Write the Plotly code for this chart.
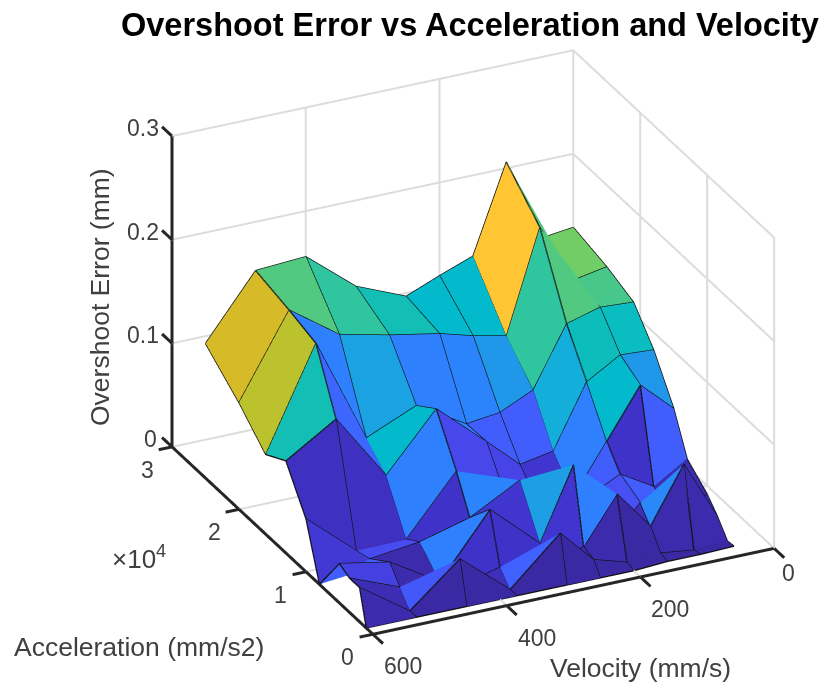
import plotly.graph_objects as go

velocity = [600, 525, 450, 375, 300, 250, 200, 150, 100, 50]
acceleration = [25000, 20000, 16000, 13000, 10000, 8000, 5000, 3500, 2000, 1000]
# rows follow acceleration, columns follow velocity
overshoot = [
    [.130, .190, .193, .154, .134, .147, .159, .243, .162, .166],
    [.103, .182, .148, .137, .128, .119, .112, .210, .152, .158],
    [.077, .174, .072, .093, .065, .069, .084, .141, .150, .148],
    [.089, .119, .054, .108, .066, .037, .043, .103, .122, .120],
    [.051, .010, .0105, .066, .028, .0115, .017, .064, .111, .0815],
    [.000, .014, .020, .033, .059, .010, .028, .044, .025, .045],
    [.038, .029, .000, .059, .016, .085, .003, .0345, .012, .029],
    [.033, .014, .000, .0125, .004, .015, .059, .021, .074, .017],
    [.033, .000, .040, .000, .044, .0115, .002, .004, .000, .002],
    [.000, .000, .000, .000, .000, .000, .000, .002, .002, .003],
]
face_level = [
    [.84, .60, .54, .48, .42, .42, .94, .60, .66],
    [.78, .24, .33, .24, .25, .30, .54, .60, .58],
    [.48, .19, .42, .24, .17, .17, .36, .46, .45],
    [.05, .05, .24, .12, .11, .07, .24, .42, .30],
    [.08, .13, .06, .25, .24, .20, .17, .06, .17],
    [.17, .02, .24, .07, .32, .20, .14, .17, .03],
    [.10, .02, .06, .06, .07, .24, .04, .26, .03],
    [.03, .16, .04, .18, .02, .02, .01, .02, .02],
    [.02, .01, .01, .01, .01, .01, .01, .01, .01],
]
colors = [
    [0.00, "#3a289f"], [0.06, "#3f32c8"], [0.12, "#4848ee"], [0.18, "#3f62ff"],
    [0.24, "#2f80ff"], [0.30, "#2098e8"], [0.36, "#14aedb"], [0.42, "#02bacb"],
    [0.48, "#12bfb5"], [0.54, "#30c59e"], [0.60, "#52c980"], [0.66, "#70cd66"],
    [0.78, "#bcc22e"], [0.84, "#d6ba28"], [0.94, "#ffc433"], [1.00, "#f9fb15"],
]
x_ticks = [0, 200, 400, 600]
y_ticks = [0, 10000, 20000, 30000]
y_labels = ["0", "1", "2", "3"]
z_ticks = [0, 0.1, 0.2, 0.3]
z_labels = ["0", "0.1", "0.2", "0.3"]

X0, X1 = min(x_ticks), max(x_ticks)
Y0, Y1 = min(y_ticks), max(y_ticks)
Z0, Z1 = min(z_ticks), max(z_ticks)

nr, nc = len(acceleration), len(velocity)
X, Y, Z = [], [], []
for r in range(nr):
    for c in range(nc):
        X.append(velocity[c]); Y.append(acceleration[r]); Z.append(overshoot[r][c])
vid = lambda r, c: r * nc + c
I, J, K, L = [], [], [], []
for r in range(nr - 1):
    for c in range(nc - 1):
        a, b, d, e = vid(r, c), vid(r, c + 1), vid(r + 1, c + 1), vid(r + 1, c)
        I += [a, a]; J += [b, d]; K += [d, e]
        L += [face_level[r][c]] * 2

mesh = go.Mesh3d(x=X, y=Y, z=Z, i=I, j=J, k=K, intensity=L, intensitymode="cell",
                 colorscale=colors, cmin=0, cmax=1, showscale=False, flatshading=True,
                 lighting=dict(ambient=1, diffuse=0, specular=0, roughness=1, fresnel=0),
                 hoverinfo="skip")


def polyline(segments, color, width):
    xs, ys, zs = [], [], []
    for seg in segments:
        for p in seg:
            xs.append(p[0]); ys.append(p[1]); zs.append(p[2])
        xs.append(None); ys.append(None); zs.append(None)
    return go.Scatter3d(x=xs, y=ys, z=zs, mode="lines", line=dict(color=color, width=width),
                        hoverinfo="skip", showlegend=False)


grid = []
for v in x_ticks:
    if v != X1:  # the axes themselves run along this line
        grid.append([(v, Y0, Z0), (v, Y1, Z0), (v, Y1, Z1)])
for a in y_ticks:
    if a == Y0:
        grid.append([(X0, a, Z0), (X0, a, Z1)])
    else:
        grid.append([(X1, a, Z0), (X0, a, Z0), (X0, a, Z1)])
for h in z_ticks:
    grid.append([(X1, Y1, h), (X0, Y1, h), (X0, Y0, h)])

axes = [[(X1, Y1, Z1), (X1, Y1, Z0), (X1, Y0, Z0), (X0, Y0, Z0)]]
x_tick_len, y_tick_len = 1500, 20
for v in x_ticks:
    axes.append([(v, Y0, Z0), (v, Y0 - x_tick_len, Z0)])
for a in y_ticks:
    axes.append([(X1, a, Z0), (X1 + y_tick_len, a, Z0)])
for h in z_ticks:
    axes.append([(X1, Y1, h), (X1, Y1 + x_tick_len, h)])

surface_edges = []
for r in range(nr):
    surface_edges.append([(velocity[c], acceleration[r], overshoot[r][c]) for c in range(nc)])
for c in range(nc):
    surface_edges.append([(velocity[c], acceleration[r], overshoot[r][c]) for r in range(nr)])

fig = go.Figure([polyline(grid, "#dcdcdc", 4), mesh, polyline(surface_edges, "#101010", 2.6),
                 polyline(axes, "#262626", 6)])

tick_font = dict(family="Liberation Sans", size=23, color="#404040")
title_font = dict(family="Liberation Sans", size=26.5, color="#404040")
hidden = dict(visible=False, showspikes=False)
labels = []
for v in x_ticks:
    labels.append(dict(x=v, y=Y0, z=Z0, text=str(v), xshift=14 if v == 0 else 30,
                       yshift=-25 if v == 0 else -32))
for a, t in zip(y_ticks, y_labels):
    labels.append(dict(x=X1, y=a, z=Z0, text=t, xshift=-25, yshift=-23))
for h, t in zip(z_ticks, z_labels):
    labels.append(dict(x=X1, y=Y1, z=h, text=t, xshift=-22 if h == 0 else -29, yshift=8))
for l in labels:
    l.update(showarrow=False, font=tick_font)

cen = dict(x=-0.1638, y=0.0771, z=-0.0018)
R = 1.15
fig.update_layout(
    width=822, height=686, paper_bgcolor="white", margin=dict(l=0, r=0, t=0, b=0),
    showlegend=False,
    scene=dict(
        domain=dict(x=[0, 1], y=[0, 1]),
        xaxis=dict(hidden, range=[640, -40]),
        yaxis=dict(hidden, range=[-3000, 33000]),
        zaxis=dict(hidden, range=[-0.01, 0.31]),
        aspectmode="manual", aspectratio=dict(x=1.1333 * 1.297, y=1.206 * 1.349, z=0.8245 * 1.31),
        annotations=labels,
        camera=dict(projection=dict(type="orthographic"), up=dict(x=0, y=0, z=1), center=cen,
                    eye=dict(x=cen["x"] - 0.3865 * R, y=cen["y"] - 0.8068 * R, z=cen["z"] + 0.4468 * R)),
    ),
    annotations=[
        dict(text="<b>Overshoot Error vs Acceleration and Velocity</b>", x=470 / 822, y=1 - 25 / 686,
             font=dict(family="Liberation Sans", size=32.5, color="black")),
        dict(text="Velocity (mm/s)", x=640 / 822, y=1 - 668 / 686, font=title_font),
        dict(text="Acceleration (mm/s2)", x=139 / 822, y=1 - 647 / 686, font=title_font),
        dict(text="Overshoot Error (mm)", x=100 / 822, y=1 - 297 / 686, textangle=-90, font=title_font),
        dict(text="×10<sup>4</sup>", x=139 / 822, y=1 - 557 / 686,
             font=dict(family="Liberation Sans", size=26, color="#404040")),
    ],
)
fig.update_annotations(xref="paper", yref="paper", showarrow=False, xanchor="center", yanchor="middle")
fig.write_html("out.html", post_script="document.body.style.margin='0';",
               config=dict(displayModeBar=False))
